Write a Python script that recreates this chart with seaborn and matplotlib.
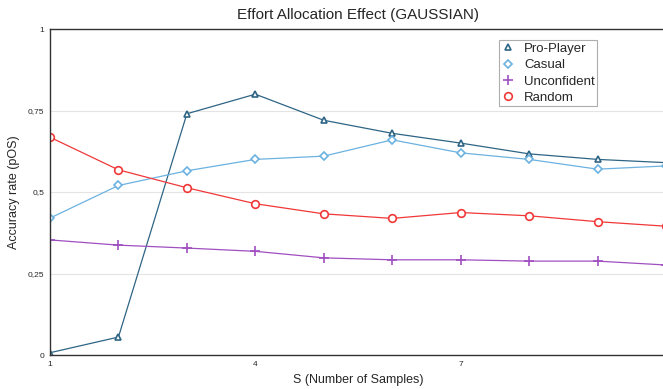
import matplotlib
matplotlib.use("Agg")
import matplotlib.pyplot as plt
import seaborn as sns
from matplotlib.ticker import FuncFormatter

# data
samples = [1, 2, 3, 4, 5, 6, 7, 8, 9, 10]
pro_player = [0.007, 0.055, 0.74, 0.80, 0.72, 0.68, 0.65, 0.617, 0.60, 0.59]
casual = [0.42, 0.52, 0.565, 0.60, 0.61, 0.66, 0.62, 0.60, 0.57, 0.58]
unconfident = [0.353, 0.337, 0.328, 0.318, 0.298, 0.292, 0.292, 0.288, 0.288, 0.276]
random_acc = [0.668, 0.568, 0.513, 0.464, 0.433, 0.419, 0.437, 0.427, 0.409, 0.395]

series = [
    ("Pro-Player", pro_player, "#2e6585", "^", 5),
    ("Casual", casual, "#6cb2e0", "D", 4.5),
    ("Unconfident", unconfident, "#a04fc0", "+", 7),
    ("Random", random_acc, "#f03838", "o", 5.5),
]

sns.set_style("white")
plt.rcParams["font.family"] = ["Liberation Sans", "DejaVu Sans"]

fig = plt.figure(figsize=(6.63, 3.89), dpi=100)
ax = fig.add_axes([50 / 663, 1 - 355 / 389, 616 / 663, 326 / 389])

for name, vals, color, marker, ms in series:
    sns.lineplot(x=samples, y=vals, ax=ax, color=color, label=name,
                 marker=marker, markersize=ms, linewidth=0.9,
                 markerfacecolor="white", markeredgecolor=color,
                 markeredgewidth=1.2)

ax.set_xlim(1, 10)
ax.set_ylim(0, 1)
ax.set_xticks([1, 4, 7])
ax.set_yticks([0, 0.25, 0.5, 0.75, 1])
ax.yaxis.set_major_formatter(FuncFormatter(lambda v, p: ("%g" % v).replace(".", ",")))
ax.tick_params(axis="both", labelsize=6, length=0, pad=4)
ax.grid(axis="y", color="#e4e4e4", linewidth=0.8)
ax.set_axisbelow(True)

for side in ["left", "bottom", "top"]:
    ax.spines[side].set_color("#333333")
    ax.spines[side].set_linewidth(1.0)
ax.spines["right"].set_visible(False)

ax.set_title("Effort Allocation Effect (GAUSSIAN)", fontsize=11, pad=7)
ax.set_xlabel("S (Number of Samples)", fontsize=9, labelpad=5)
ax.set_ylabel("Accuracy rate (pOS)", fontsize=9, labelpad=6)

leg = ax.legend(loc="upper left", bbox_to_anchor=(442 / 616, 0.985), fontsize=9.5,
                frameon=True, fancybox=False, borderpad=0.15, labelspacing=0.32,
                handlelength=1.2, handletextpad=0.6)
leg.get_frame().set_edgecolor("#999999")
leg.get_frame().set_linewidth(0.8)
for h in leg.get_lines():
    h.set_linestyle("none")

fig.savefig("out.png", dpi=100)
